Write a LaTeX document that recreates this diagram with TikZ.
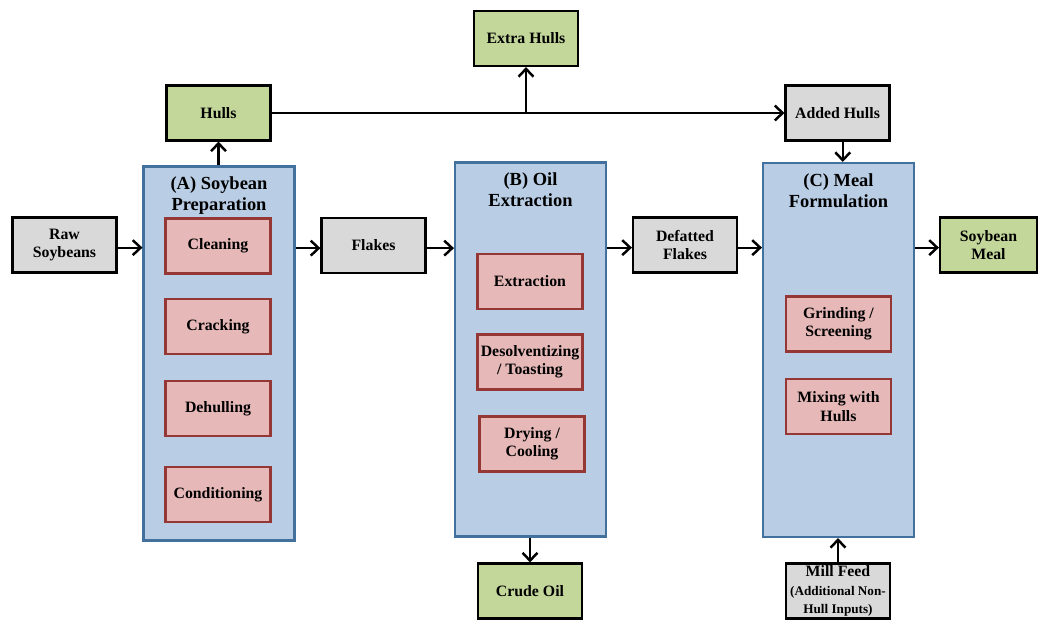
\documentclass[tikz,border=0pt]{standalone}
\usepackage{fontspec}
\setmainfont{Liberation Serif}
\usepackage{xcolor}
\usetikzlibrary{arrows.meta, positioning}
\definecolor{hullgreen}{RGB}{196,215,155}
\definecolor{streamgray}{RGB}{217,217,217}
\definecolor{stagefill}{RGB}{185,205,229}
\definecolor{stageline}{RGB}{65,113,156}
\definecolor{stepfill}{RGB}{230,185,184}
\definecolor{stepline}{RGB}{149,55,53}
\newcommand{\smallnote}[1]{{\fontsize{7.5}{9}\selectfont #1}}

\begin{document}
\begin{tikzpicture}[x=0.02cm, y=-0.02cm,
    stream/.style={rectangle, draw=black, line width=1.2pt, fill=streamgray, minimum width=2.08cm,
                   minimum height=1.1cm, align=center, font=\bfseries\fontsize{9}{10.5}\selectfont},
    product/.style={stream, fill=hullgreen},
    stage/.style={rectangle, draw=stageline, line width=1.2pt, fill=stagefill, minimum width=3.02cm,
                  minimum height=7.48cm},
    stagetitle/.style={align=center, font=\bfseries\fontsize{10.5}{12}\selectfont},
    stepbox/.style={rectangle, draw=stepline, line width=1.2pt, fill=stepfill, minimum width=2.1cm,
                    minimum height=1.1cm, inner xsep=1pt, align=center, font=\bfseries\fontsize{9}{10.5}\selectfont},
    flow/.style={-{Straight Barb[length=4.5pt,width=8.5pt,line width=1.4pt]}, line width=1.2pt}
]
\useasboundingbox (0,0) rectangle (1041,621);
% stages
\node[stage] (stageA) at (219,353.5) {};
\node[stage] (stageB) at (530.5,349.5) {};
\node[stage] (stageC) at (838.5,350) {};
\node[stagetitle, below=3pt of stageA.north] (titleA) {(A) Soybean\\Preparation};
\node[stagetitle, below=3pt of stageB.north] (titleB) {(B) Oil\\Extraction};
\node[stagetitle, below=3pt of stageC.north] (titleC) {(C) Meal\\Formulation};
% steps
\node[stepbox] (clean) at (218,246) {Cleaning};
\node[stepbox] (crack) at (218,326.5) {Cracking};
\node[stepbox] (dehull) at (218,408.5) {Dehulling};
\node[stepbox] (cond) at (218,494.5) {Conditioning};
\node[stepbox] (extract) at (530,281.5) {Extraction};
\node[stepbox] (desolv) at (530,362) {Desolventizing\\/ Toasting};
\node[stepbox] (dry) at (532,444) {Drying /\\Cooling};
\node[stepbox] (grind) at (838.5,324) {Grinding /\\Screening};
\node[stepbox] (mix) at (838.5,406.5) {Mixing with\\Hulls};
% streams
\node[stream] (rawsoy) at (64.5,245) {Raw\\Soybeans};
\node[stream] (flakes) at (373.5,245.5) {Flakes};
\node[stream] (defat) at (685,245) {Defatted\\Flakes};
\node[stream] (addhulls) at (837.5,113) {Added Hulls};
\node[stream, inner sep=1pt] (millfeed) at (838,591) {Mill Feed\\\smallnote{(Additional Non-}\\\smallnote{Hull Inputs)}};
\node[product] (hulls) at (218.5,113) {Hulls};
\node[product] (xhulls) at (526,38.5) {Extra Hulls};
\node[product] (crudeoil) at (530,591) {Crude Oil};
\node[product, minimum width=1.94cm] (meal) at (988.5,245) {Soybean\\Meal};
\coordinate (split) at (xhulls.south |- hulls.east);
% connectors
\draw[flow] ([yshift=-1.5pt]rawsoy.east) -- ([yshift=-1.5pt]rawsoy.east -| stageA.west);
\draw[flow] ([yshift=-1.5pt]flakes.west -| stageA.east) -- ([yshift=-1.5pt]flakes.west);
\draw[flow] ([yshift=-1.5pt]flakes.east) -- ([yshift=-1.5pt]flakes.east -| stageB.west);
\draw[flow] ([yshift=-1.5pt]defat.west -| stageB.east) -- ([yshift=-1.5pt]defat.west);
\draw[flow] ([yshift=-1.5pt]defat.east) -- ([yshift=-1.5pt]defat.east -| stageC.west);
\draw[flow] ([yshift=-1.5pt]meal.west -| stageC.east) -- ([yshift=-1.5pt]meal.west);
\draw[flow] (hulls.south |- stageA.north) -- (hulls.south);
\draw[flow] (hulls.east) -- (addhulls.west);
\draw[flow] (split) -- (xhulls.south);
\draw[flow] ([xshift=3pt]addhulls.south) -- ([xshift=3pt]addhulls.south |- stageC.north);
\draw[flow] (crudeoil.north |- stageB.south) -- (crudeoil.north);
\draw[flow] (millfeed.north) -- (millfeed.north |- stageC.south);
\end{tikzpicture}
\end{document}
